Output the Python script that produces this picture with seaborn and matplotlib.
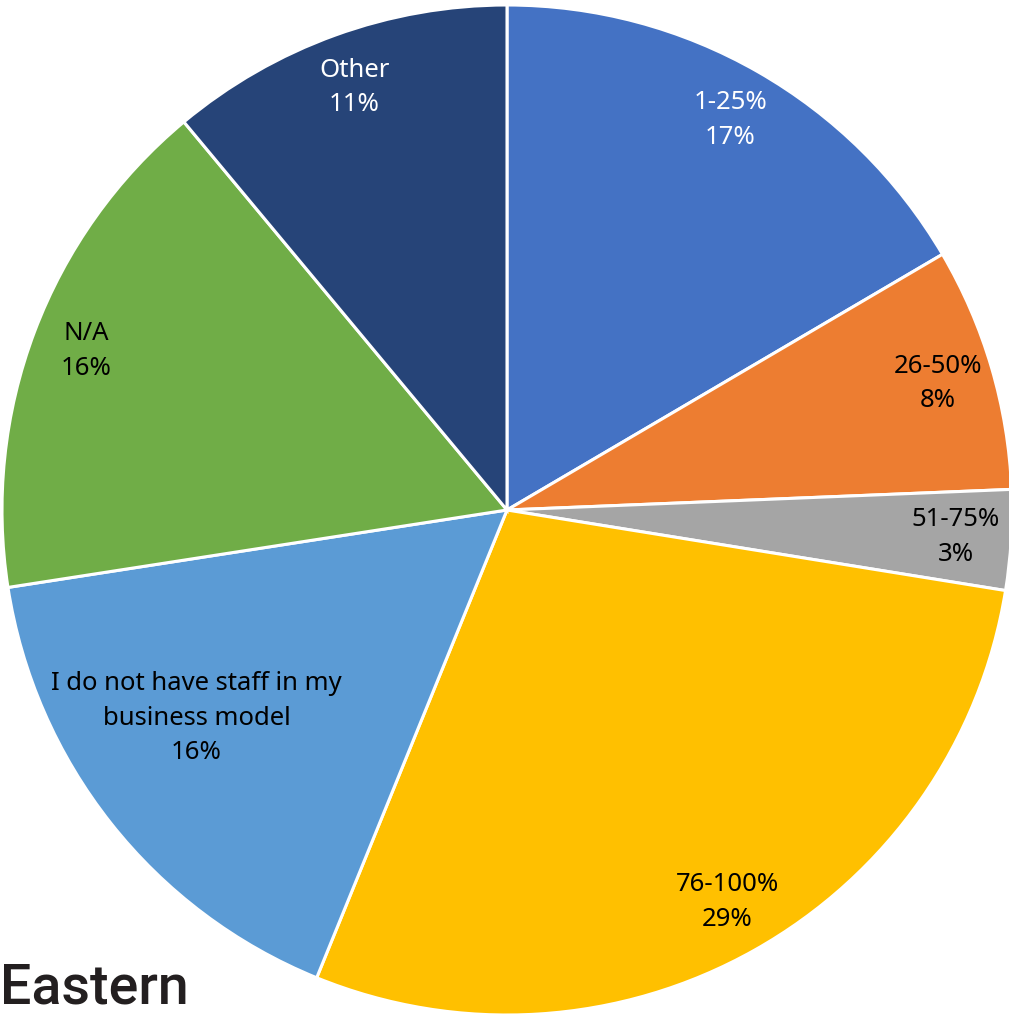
import matplotlib.pyplot as plt
import seaborn as sns
import numpy as np

# share of staff (percent)
labels = ['1-25%', '26-50%', '51-75%', '76-100%',
          'I do not have staff in my\nbusiness model', 'N/A', 'Other']
values = [16.55, 7.8, 3.2, 28.6, 16.4, 16.4, 11.05]
colors = ['#4472C4', '#ED7D31', '#A5A5A5', '#FFC000', '#5B9BD5', '#70AD47', '#264478']
text_colors = ['white', 'black', 'black', 'black', 'black', 'black', 'white']

sns.set_theme(style='white')
plt.rcParams['font.family'] = ['Noto Sans', 'DejaVu Sans']

W, H = 1009, 1015
fig = plt.figure(figsize=(W / 100, H / 100), dpi=100)
ax = fig.add_axes([0, 0, 1, 1])

cx, cy, r = 507, 510, 505  # pixel centre (from top-left) and radius

wedges, texts, autotexts = ax.pie(
    values, colors=sns.color_palette(colors), startangle=90, counterclock=False,
    radius=1, autopct='%.0f%%', pctdistance=0.89,
    wedgeprops=dict(edgecolor='white', linewidth=2.2),
    textprops=dict(fontsize=18.5, linespacing=1.5, ha='center', va='center'))

for w, t, lab, tc in zip(wedges, autotexts, labels, text_colors):
    t.set_text(lab + '\n' + t.get_text())
    t.set_color(tc)

# the long label sits further in, as in the original
w = wedges[4]
mid = np.deg2rad((w.theta1 + w.theta2) / 2 - 4.5)
autotexts[4].set_position((0.74 * np.cos(mid), 0.74 * np.sin(mid)))

ax.set_xlim(-cx / r, (W - cx) / r)
ax.set_ylim(-(H - cy) / r, cy / r)
ax.set_aspect('auto')
ax.axis('off')

fig.text(0 / W, 1 - 1004 / H, 'Eastern', fontsize=40, color='#231f20',
         fontweight='medium', ha='left', va='baseline', family=['Roboto', 'DejaVu Sans'])

fig.savefig('out.png', dpi=100)
